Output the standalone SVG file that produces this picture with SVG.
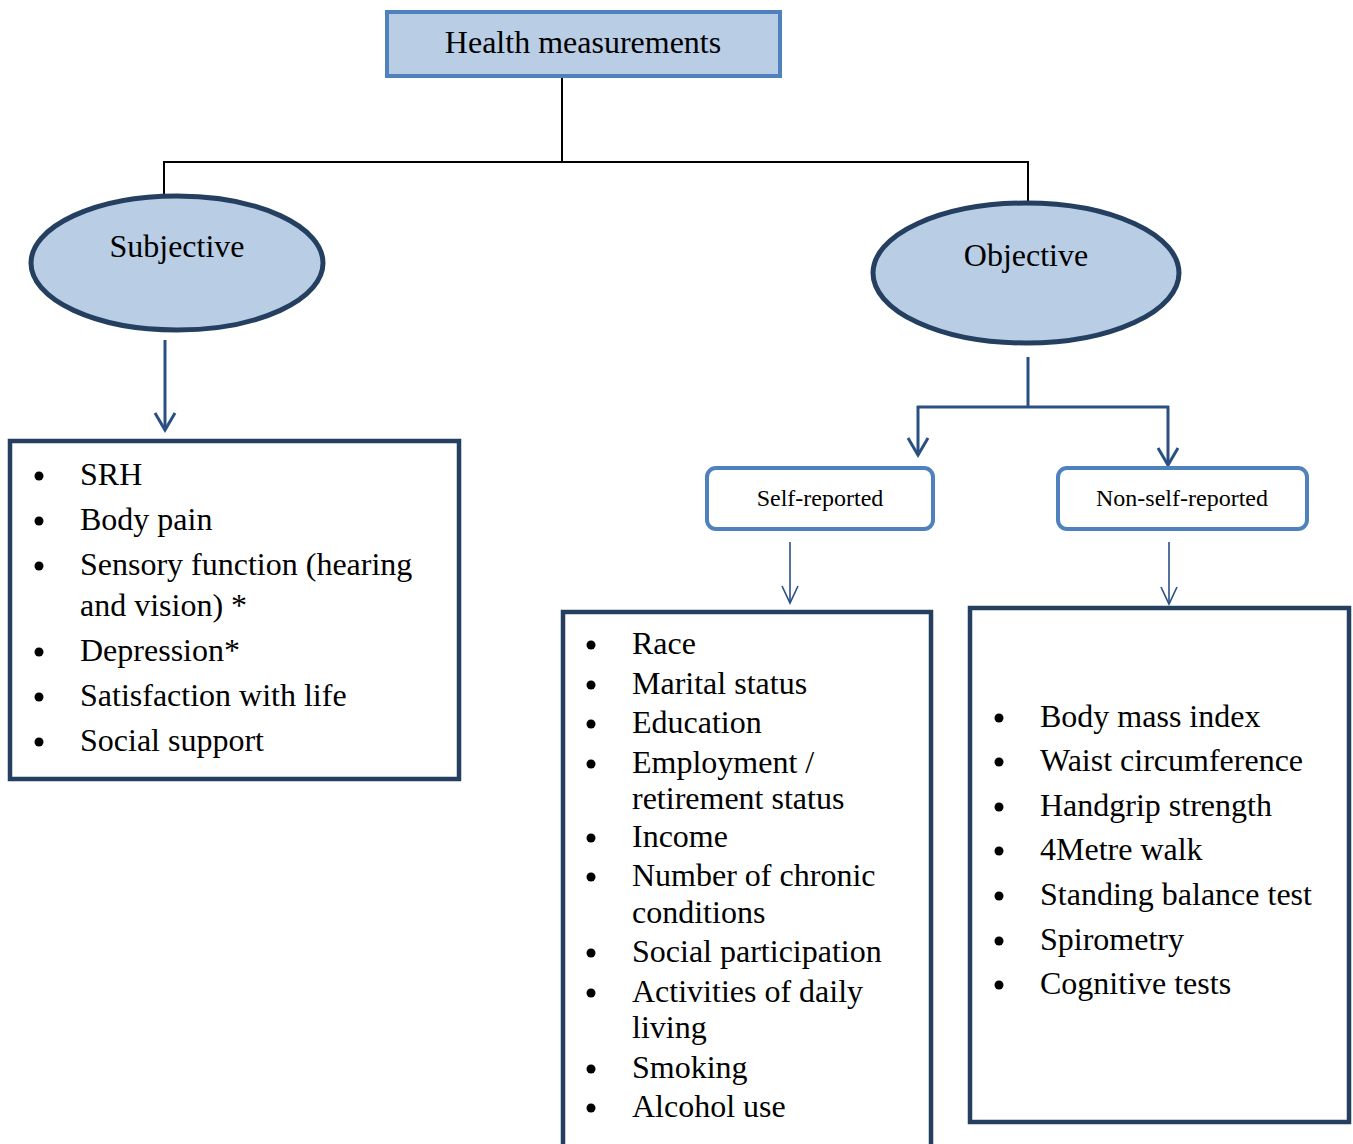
<svg xmlns="http://www.w3.org/2000/svg" width="1353" height="1144" viewBox="0 0 1353 1144">
<style>
text{font-family:"Liberation Serif","Times New Roman",serif;fill:#000}
.t{font-size:32px}
.s{font-size:24px;text-anchor:middle}
.c{text-anchor:middle}
.lst{fill:#fff;stroke:#243f60;stroke-width:4.5}
.ell{fill:#b9cde5;stroke:#243f60;stroke-width:5}
.sub{fill:#fff;stroke:#4f81bd;stroke-width:4}
.blk{fill:none;stroke:#000;stroke-width:2}
.arr{fill:none;stroke:#2a4f82;stroke-width:3}
.thin{fill:none;stroke:#2a4f82;stroke-width:1.6}
</style>
<defs>
<marker id="ah" markerWidth="20" markerHeight="24" refX="0" refY="0" orient="auto" markerUnits="userSpaceOnUse" viewBox="-20 -12 20 24" overflow="visible">
<path d="M-17 -10 L0 0 L-17 10" fill="none" stroke="#2a4f82" stroke-width="3"/>
</marker>
<marker id="ahthin" markerWidth="20" markerHeight="24" refX="0" refY="0" orient="auto" markerUnits="userSpaceOnUse" viewBox="-20 -12 20 24" overflow="visible">
<path d="M-17 -8 L0 0 L-17 8" fill="none" stroke="#2a4f82" stroke-width="1.6"/>
</marker>
</defs>

<g id="connectors">
<path class="blk" d="M562 77 V162 M164 162 H1028 M164 161 V196 M1028 161 V203"/>
<path class="arr" d="M165 340 V430" marker-end="url(#ah)"/>
<path class="arr" d="M1028 357 V407 M917 407 H1169"/>
<path class="arr" d="M918 406 V455" marker-end="url(#ah)"/>
<path class="arr" d="M1168 406 V465" marker-end="url(#ah)"/>
<path class="thin" d="M790 542 V603" marker-end="url(#ahthin)"/>
<path class="thin" d="M1169 542 V604" marker-end="url(#ahthin)"/>
</g>

<g id="health">
<rect x="387" y="12" width="393" height="64" fill="#b9cde5" stroke="#4f81bd" stroke-width="4"/>
<text class="t c" x="583" y="53">Health measurements</text>
</g>

<g id="subjective">
<ellipse class="ell" cx="177" cy="263" rx="146" ry="67"/>
<text class="t c" x="177" y="257">Subjective</text>
</g>

<g id="objective">
<ellipse class="ell" cx="1026" cy="273" rx="153" ry="70"/>
<text class="t c" x="1026" y="266">Objective</text>
</g>

<g id="subjective-list">
<rect class="lst" x="10" y="441" width="449" height="338"/>
<g fill="#000">
<circle cx="39" cy="476" r="4.5"/><circle cx="39" cy="521" r="4.5"/><circle cx="39" cy="566" r="4.5"/>
<circle cx="39" cy="652" r="4.5"/><circle cx="39" cy="697" r="4.5"/><circle cx="39" cy="742" r="4.5"/>
</g>
<text class="t" x="80" y="485">SRH</text>
<text class="t" x="80" y="530">Body pain</text>
<text class="t" x="80" y="575">Sensory function (hearing</text>
<text class="t" x="80" y="616">and vision) *</text>
<text class="t" x="80" y="661">Depression*</text>
<text class="t" x="80" y="706">Satisfaction with life</text>
<text class="t" x="80" y="751">Social support</text>
</g>

<g id="self-reported">
<rect class="sub" x="707" y="468" width="226" height="61" rx="9"/>
<text class="s" x="820" y="506">Self-reported</text>
</g>

<g id="non-self-reported">
<rect class="sub" x="1058" y="468" width="249" height="61" rx="9"/>
<text class="s" x="1182" y="506">Non-self-reported</text>
</g>

<g id="self-list">
<rect class="lst" x="563" y="612" width="368" height="540"/>
<g fill="#000">
<circle cx="591" cy="645" r="4.5"/><circle cx="591" cy="685" r="4.5"/><circle cx="591" cy="724" r="4.5"/>
<circle cx="591" cy="764" r="4.5"/><circle cx="591" cy="838" r="4.5"/><circle cx="591" cy="877" r="4.5"/>
<circle cx="591" cy="953" r="4.5"/><circle cx="591" cy="993" r="4.5"/><circle cx="591" cy="1069" r="4.5"/>
<circle cx="591" cy="1108" r="4.5"/>
</g>
<text class="t" x="632" y="654">Race</text>
<text class="t" x="632" y="694">Marital status</text>
<text class="t" x="632" y="733">Education</text>
<text class="t" x="632" y="773">Employment /</text>
<text class="t" x="632" y="809">retirement status</text>
<text class="t" x="632" y="847">Income</text>
<text class="t" x="632" y="886">Number of chronic</text>
<text class="t" x="632" y="923">conditions</text>
<text class="t" x="632" y="962">Social participation</text>
<text class="t" x="632" y="1002">Activities of daily</text>
<text class="t" x="632" y="1038">living</text>
<text class="t" x="632" y="1078">Smoking</text>
<text class="t" x="632" y="1117">Alcohol use</text>
</g>

<g id="nonself-list">
<rect class="lst" x="970" y="608" width="379" height="514"/>
<g fill="#000">
<circle cx="999" cy="718" r="4.5"/><circle cx="999" cy="762" r="4.5"/><circle cx="999" cy="807" r="4.5"/>
<circle cx="999" cy="851" r="4.5"/><circle cx="999" cy="896" r="4.5"/><circle cx="999" cy="941" r="4.5"/>
<circle cx="999" cy="985" r="4.5"/>
</g>
<text class="t" x="1040" y="727">Body mass index</text>
<text class="t" x="1040" y="771">Waist circumference</text>
<text class="t" x="1040" y="816">Handgrip strength</text>
<text class="t" x="1040" y="860">4Metre walk</text>
<text class="t" x="1040" y="905">Standing balance test</text>
<text class="t" x="1040" y="950">Spirometry</text>
<text class="t" x="1040" y="994">Cognitive tests</text>
</g>
</svg>
